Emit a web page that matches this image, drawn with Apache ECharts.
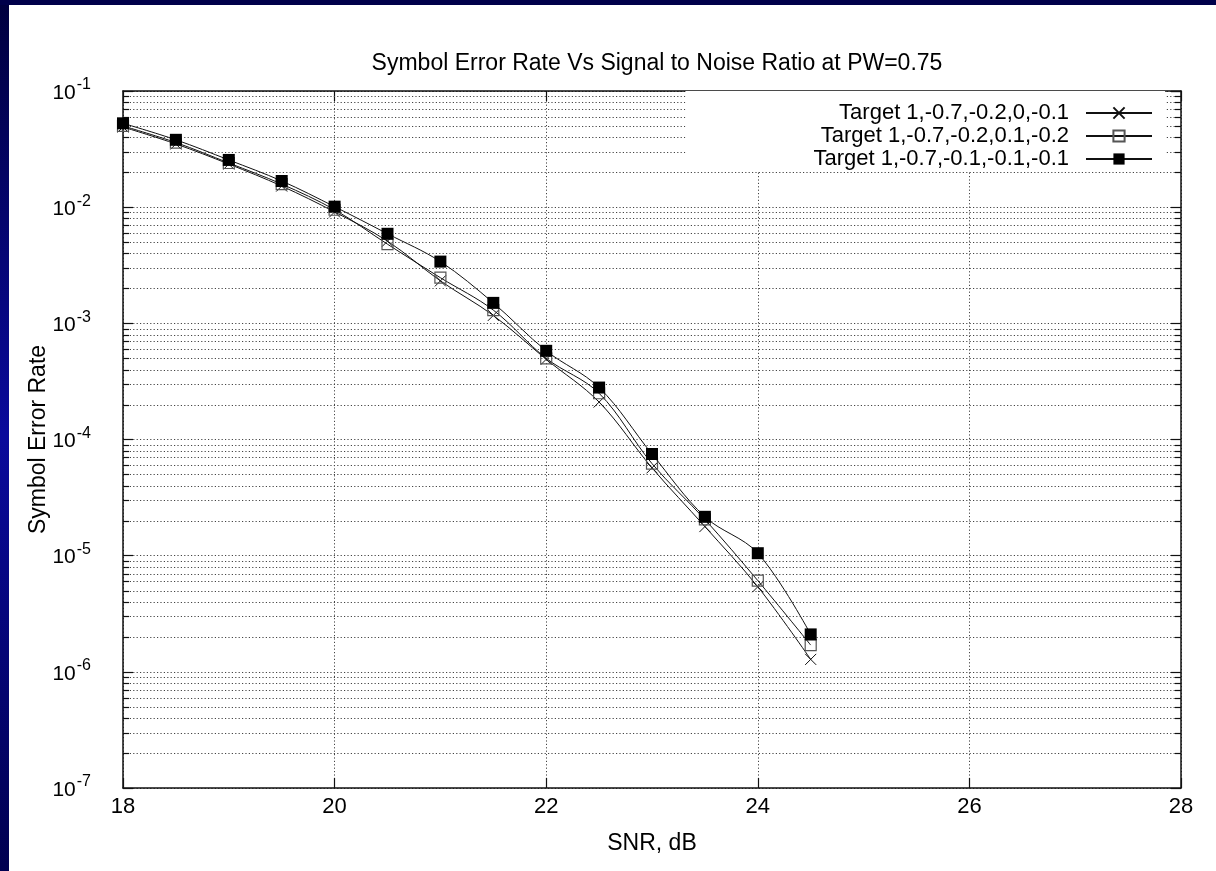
<!DOCTYPE html>
<html>
<head>
<meta charset="utf-8">
<script src="https://cdn.jsdelivr.net/npm/echarts@6/dist/echarts.min.js"></script>
<style>
  html, body { margin: 0; padding: 0; background: #fff; }
  #chart { width: 1216px; height: 871px; }
</style>
</head>
<body>
<div id="chart"></div>
<script>
// ---- data ----
const snr = [18, 18.5, 19, 19.5, 20, 20.5, 21, 21.5, 22, 22.5, 23, 23.5, 24, 24.5];
const seriesNames = [
  'Target 1,-0.7,-0.2,0,-0.1',
  'Target 1,-0.7,-0.2,0.1,-0.2',
  'Target 1,-0.7,-0.1,-0.1,-0.1'
];
const serA = [0.049, 0.035, 0.0235, 0.0152, 0.0091, 0.0051, 0.00232, 0.00117, 0.00049, 0.00021, 5.7e-5, 1.78e-5, 5.4e-6, 1.28e-6];
const serB = [0.050, 0.036, 0.024, 0.0158, 0.0095, 0.0048, 0.00247, 0.0013, 0.0005, 0.00025, 6.2e-5, 2.05e-5, 6.1e-6, 1.7e-6];
const serC = [0.0527, 0.038, 0.0255, 0.0168, 0.0101, 0.0059, 0.0034, 0.0015, 0.00058, 0.00028, 7.5e-5, 2.16e-5, 1.05e-5, 2.1e-6];
const xTicks = [18, 20, 22, 24, 26, 28];
const yDecades = [-7, -6, -5, -4, -3, -2, -1];
const minorMultipliers = [2, 3, 4, 5, 6, 7, 8, 9];

const xMin = xTicks[0], xMax = xTicks[xTicks.length - 1];
const yMin = Math.pow(10, yDecades[0]), yMax = Math.pow(10, yDecades[yDecades.length - 1]);
const minorVals = [];
yDecades.slice(0, -1).forEach(function (e) {
  minorMultipliers.forEach(function (m) { minorVals.push(m * Math.pow(10, e)); });
});

const FONT = 'Liberation Sans, Arial, Helvetica, sans-serif';
const dotted = { color: '#444', width: 1, type: [1.2, 2.2] };

const chart = echarts.init(document.getElementById('chart'), null, { renderer: 'canvas' });

function pairs(vals) { return snr.map(function (x, i) { return [x, vals[i]]; }); }

const yLabelFmt = function (v) {
  const e = Math.round(Math.log10(v));
  return '{b|10}{s|' + e + '}';
};

const baseY = {
  type: 'log', logBase: 10, min: yMin, max: yMax, interval: 1, splitNumber: 6,
  axisLine: { show: true, lineStyle: { color: '#111', width: 1.5 } },
  axisTick: { show: true, inside: true, length: 10, lineStyle: { color: '#111', width: 1.2 } },
  minorTick: { show: false }
};

const option = {
  backgroundColor: '#fff',
  animation: false,
  graphic: [
    { type: 'rect', shape: { x: 0, y: 0, width: 9, height: 871 }, z: 100,
      style: { fill: new echarts.graphic.LinearGradient(0, 0, 0, 1, [
        { offset: 0, color: '#00003e' }, { offset: 0.5, color: '#0a0a9c' }, { offset: 1, color: '#000050' }]) } },
    { type: 'rect', shape: { x: 0, y: 0, width: 1216, height: 5 }, z: 100, style: { fill: '#00004a' } }
  ],
  title: {
    text: 'Symbol Error Rate Vs Signal to Noise Ratio at PW=0.75',
    left: 652, top: 47, textAlign: 'center',
    textStyle: { fontFamily: FONT, fontSize: 23, fontWeight: 'normal', color: '#000' }
  },
  legend: {
    orient: 'vertical', right: 51, top: 91, align: 'right',
    itemWidth: 66, itemHeight: 14, itemGap: 1,
    padding: [11, 12, 1, 128],
    backgroundColor: '#fff',
    textStyle: { fontFamily: FONT, fontSize: 22, color: '#000', lineHeight: 22, padding: [0, 12, 0, 0] },
    data: seriesNames
  },
  grid: { left: 123, top: 91, right: 35, bottom: 83, containLabel: false },
  xAxis: [{
    type: 'value', min: xMin, max: xMax, interval: 2, position: 'bottom',
    name: 'SNR, dB', nameLocation: 'middle', nameGap: 44, nameMoveOverlap: false,
    nameTextStyle: { fontFamily: FONT, fontSize: 23, color: '#000' },
    axisLine: { show: true, lineStyle: { color: '#111', width: 1.5 } },
    axisTick: { show: true, inside: true, length: 10, lineStyle: { color: '#111', width: 1.2 } },
    axisLabel: { fontFamily: FONT, fontSize: 22, color: '#000', margin: 8 },
    splitLine: { show: true, lineStyle: dotted }
  }, {
    type: 'value', min: xMin, max: xMax, interval: 2, position: 'top',
    axisLine: { show: true, lineStyle: { color: '#111', width: 1.5 } },
    axisTick: { show: true, inside: true, length: 10, lineStyle: { color: '#111', width: 1.2 } },
    axisLabel: { show: false }, splitLine: { show: false }
  }],
  yAxis: [Object.assign({}, baseY, {
    position: 'left',
    name: 'Symbol Error Rate', nameLocation: 'middle', nameGap: 73, nameMoveOverlap: false,
    nameTextStyle: { fontFamily: FONT, fontSize: 23, color: '#000' },
    axisLabel: {
      formatter: yLabelFmt, margin: 32, color: '#000',
      rich: {
        b: { fontFamily: FONT, fontSize: 21, color: '#000', padding: [4, 0, 0, 0] },
        s: { fontFamily: FONT, fontSize: 16, color: '#000', padding: [0, 0, 12, 1] }
      }
    },
    splitLine: { show: true, lineStyle: dotted }
  }), Object.assign({}, baseY, {
    position: 'right', axisLabel: { show: false }, splitLine: { show: false }
  })],
  series: [
    {
      type: 'custom', name: 'minorgrid', silent: true, z: 1, clip: true,
      data: minorVals.map(function (v) { return [xMin, v]; }),
      encode: { x: 0, y: 1 },
      renderItem: function (params, api) {
        const cs = params.coordSys;
        const y = Math.round(api.coord([api.value(0), api.value(1)])[1]) + 0.5;
        const x0 = cs.x, x1 = cs.x + cs.width;
        return { type: 'group', children: [
          { type: 'line', shape: { x1: x0, y1: y, x2: x1, y2: y }, style: { stroke: dotted.color, lineWidth: 1, lineDash: dotted.type } },
          { type: 'line', shape: { x1: x0, y1: y, x2: x0 + 6, y2: y }, style: { stroke: '#111', lineWidth: 1.2 } },
          { type: 'line', shape: { x1: x1 - 6, y1: y, x2: x1, y2: y }, style: { stroke: '#111', lineWidth: 1.2 } }
        ] };
      }
    },
    {
      type: 'line', name: seriesNames[0], data: pairs(serA), smooth: 0.35, z: 3,
      symbol: 'path://M0,0L10,10M10,0L0,10', symbolSize: 11,
      lineStyle: { color: '#111', width: 1 },
      itemStyle: { color: 'rgba(0,0,0,0)', borderColor: '#111', borderWidth: 1 }
    },
    {
      type: 'line', name: seriesNames[1], data: pairs(serB), smooth: 0.35, z: 4,
      symbol: 'rect', symbolSize: 11,
      lineStyle: { color: '#111', width: 1 },
      itemStyle: { color: 'rgba(255,255,255,0)', borderColor: '#555', borderWidth: 1.2 }
    },
    {
      type: 'line', name: seriesNames[2], data: pairs(serC), smooth: 0.35, z: 5,
      symbol: 'rect', symbolSize: 12,
      lineStyle: { color: '#111', width: 1 },
      itemStyle: { color: '#000', borderColor: '#000', borderWidth: 0 }
    }
  ]
};
chart.setOption(option);
</script>
</body>
</html>
